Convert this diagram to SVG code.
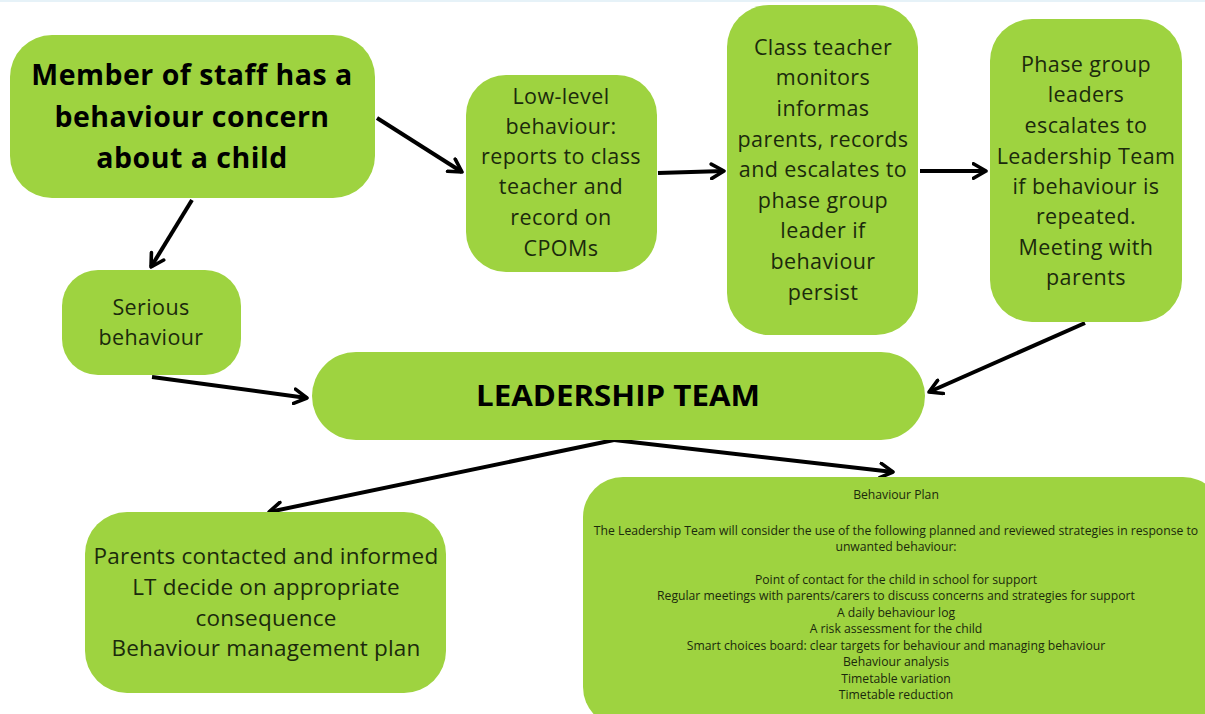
<svg xmlns="http://www.w3.org/2000/svg" width="1205" height="714" viewBox="0 0 1205 714">
<defs>
<marker id="ah" viewBox="0 0 10 10" refX="8" refY="5" markerWidth="4.5" markerHeight="4.5" orient="auto" markerUnits="strokeWidth">
<path d="M1,1 L8,5 L1,9" fill="none" stroke="#000" stroke-width="2" stroke-linecap="round" stroke-linejoin="round"/>
</marker>
</defs>
<style>
.box{fill:#9ed340;}
.t{font-family:"Open Sans","Liberation Sans",sans-serif;fill:#1b2a0c;text-anchor:middle;}
.m{font-size:21.5px;letter-spacing:0.4px;}
.big{font-size:28.5px;font-weight:bold;fill:#000;letter-spacing:0.5px;}
.sm{font-size:12.2px;}
.c{fill:none;stroke:#000;stroke-width:4;marker-end:url(#ah);}
</style>
<rect width="1205" height="714" fill="#fff"/>
<rect width="1205" height="2" fill="#e6f2f8"/>
<g id="connectors">
<line class="c" x1="377" y1="118" x2="462" y2="172"/>
<line class="c" x1="192" y1="200" x2="151" y2="267"/>
<line class="c" x1="658" y1="173" x2="724" y2="171"/>
<line class="c" x1="920" y1="171" x2="986" y2="171"/>
<line class="c" x1="152" y1="377" x2="307" y2="398"/>
<line class="c" x1="1085" y1="323" x2="929" y2="392"/>
<polyline class="c" points="614,440 269,512"/>
<polyline class="c" points="614,440 893,472"/>
</g>
<g id="n1">
<rect class="box" x="10" y="35" width="365" height="163" rx="42"/>
<text class="t big" x="192" y="85">Member of staff has a</text>
<text class="t big" x="192" y="127">behaviour concern</text>
<text class="t big" x="192" y="168">about a child</text>
</g>
<g id="n2">
<rect class="box" x="466" y="75" width="191" height="197" rx="40"/>
<text class="t m" x="561" y="104">Low-level</text>
<text class="t m" x="561" y="134">behaviour:</text>
<text class="t m" x="561" y="164">reports to class</text>
<text class="t m" x="561" y="194">teacher and</text>
<text class="t m" x="561" y="225">record on</text>
<text class="t m" x="561" y="256">CPOMs</text>
</g>
<g id="n3">
<rect class="box" x="727" y="5" width="191" height="330" rx="42"/>
<text class="t m" x="823" y="55">Class teacher</text>
<text class="t m" x="823" y="85">monitors</text>
<text class="t m" x="823" y="116">informas</text>
<text class="t m" x="823" y="147">parents, records</text>
<text class="t m" x="823" y="177">and escalates to</text>
<text class="t m" x="823" y="208">phase group</text>
<text class="t m" x="823" y="238">leader if</text>
<text class="t m" x="823" y="269">behaviour</text>
<text class="t m" x="823" y="300">persist</text>
</g>
<g id="n4">
<rect class="box" x="990" y="19" width="192" height="303" rx="42"/>
<text class="t m" x="1086" y="72">Phase group</text>
<text class="t m" x="1086" y="102">leaders</text>
<text class="t m" x="1086" y="133">escalates to</text>
<text class="t m" x="1086" y="164">Leadership Team</text>
<text class="t m" x="1086" y="194">if behaviour is</text>
<text class="t m" x="1086" y="224">repeated.</text>
<text class="t m" x="1086" y="255">Meeting with</text>
<text class="t m" x="1086" y="285">parents</text>
</g>
<g id="n5">
<rect class="box" x="62" y="270" width="179" height="105" rx="36"/>
<text class="t m" x="151" y="315">Serious</text>
<text class="t m" x="151" y="345">behaviour</text>
</g>
<g id="n6">
<rect class="box" x="312" y="352" width="613" height="88" rx="44"/>
<text class="t" x="618" y="406" style="font-size:29px;font-weight:bold;fill:#000" textLength="284" lengthAdjust="spacingAndGlyphs">LEADERSHIP TEAM</text>
</g>
<g id="n7">
<rect class="box" x="85" y="512" width="361" height="181" rx="42"/>
<text class="t" style="font-size:22.5px;letter-spacing:0.2px" x="266" y="564">Parents contacted and informed</text>
<text class="t" style="font-size:22.5px;letter-spacing:0.2px" x="266" y="595">LT decide on appropriate</text>
<text class="t" style="font-size:22.5px;letter-spacing:0.2px" x="266" y="626">consequence</text>
<text class="t" style="font-size:22.5px;letter-spacing:0.2px" x="266" y="656">Behaviour management plan</text>
</g>
<g id="n8">
<rect class="box" x="583" y="477" width="640" height="250" rx="40"/>
<text class="t sm" x="896" y="499">Behaviour Plan</text>
<text class="t sm" x="896" y="535">The Leadership Team will consider the use of the following planned and reviewed strategies in response to</text>
<text class="t sm" x="896" y="551">unwanted behaviour:</text>
<text class="t sm" x="896" y="584">Point of contact for the child in school for support</text>
<text class="t sm" x="896" y="600">Regular meetings with parents/carers to discuss concerns and strategies for support</text>
<text class="t sm" x="896" y="617">A daily behaviour log</text>
<text class="t sm" x="896" y="633">A risk assessment for the child</text>
<text class="t sm" x="896" y="650">Smart choices board: clear targets for behaviour and managing behaviour</text>
<text class="t sm" x="896" y="666">Behaviour analysis</text>
<text class="t sm" x="896" y="683">Timetable variation</text>
<text class="t sm" x="896" y="699">Timetable reduction</text>
</g>
</svg>
